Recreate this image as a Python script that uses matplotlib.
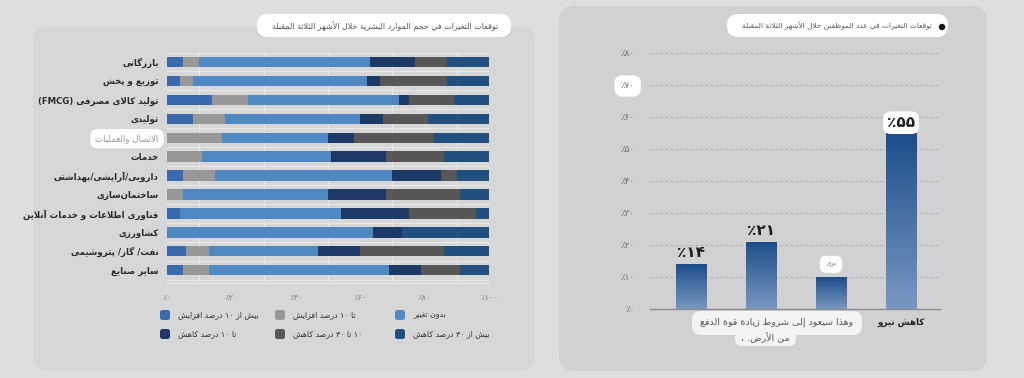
import re
import numpy as np
import matplotlib
matplotlib.use('Agg')
import matplotlib.pyplot as plt
from matplotlib.patches import FancyBboxPatch, Circle
from matplotlib.colors import LinearSegmentedColormap

# ---------------- data ----------------
industries = ['بازرگانی', 'توزیع و پخش', 'تولید کالای مصرفی (FMCG)', 'تولیدی',
              'الاتصال والعمليات', 'خدمات', 'دارویی/آرایشی/بهداشتی', 'ساختمان\u200cسازی',
              'فناوری اطلاعات و خدمات آنلاین', 'کشاورزی', 'نفت/ گاز/ پتروشیمی', 'سایر صنایع']
inc_over10 = [5, 4, 14, 8, 0, 0, 5, 0, 4, 0, 6, 5]
inc_upto10 = [5, 4, 11, 10, 17, 11, 10, 5, 0, 0, 7, 8]
no_change = [53, 54, 47, 42, 33, 40, 55, 45, 50, 64, 34, 56]
dec_upto10 = [14, 4, 3, 7, 8, 17, 15, 18, 21, 9, 13, 10]
dec_10_30 = [10, 21, 14, 14, 25, 18, 5, 23, 21, 0, 26, 12]
dec_over30 = [13, 13, 11, 19, 17, 14, 10, 9, 4, 27, 14, 9]
series_names = ['بیش از ۱۰ درصد افزایش', 'تا ۱۰ درصد افزایش', 'بدون تغییر',
                'تا ۱۰ درصد کاهش', '۱۰ تا ۳۰ درصد کاهش', 'بیش از ۳۰ درصد کاهش']
series_colors = ['#3b69ae', '#989898', '#5089c2', '#1d3a66', '#575757', '#21507f']
pct_ticks = [0, 20, 40, 60, 80, 100]

staff_cats = ['', '', '', 'کاهش نیرو']
staff_vals = [14, 21, 10, 55]
staff_ticks = [0, 10, 20, 30, 40, 50, 60, 70, 80]

title_left = 'توقعات التغيرات في حجم الموارد البشرية خلال الأشهر الثلاثة المقبلة'
title_right = 'توقعات التغيرات في عدد الموظفين خلال الأشهر الثلاثة المقبلة'
caption_1 = 'وهذا سيعود إلى شروط زيادة قوة الدفع'
caption_2 = 'من الأرض. ،'
caption_bar = 'بری'

# ---------------- arabic shaping (matplotlib does no shaping / bidi) ----------------
AR_FORMS = {
    'ا': (0xFE8D, 0xFE8E), 'أ': (0xFE83, 0xFE84), 'إ': (0xFE87, 0xFE88), 'آ': (0xFE81, 0xFE82),
    'ب': (0xFE8F, 0xFE90, 0xFE91, 0xFE92), 'ة': (0xFE93, 0xFE94),
    'ت': (0xFE95, 0xFE96, 0xFE97, 0xFE98), 'ث': (0xFE99, 0xFE9A, 0xFE9B, 0xFE9C),
    'ج': (0xFE9D, 0xFE9E, 0xFE9F, 0xFEA0), 'ح': (0xFEA1, 0xFEA2, 0xFEA3, 0xFEA4),
    'خ': (0xFEA5, 0xFEA6, 0xFEA7, 0xFEA8), 'د': (0xFEA9, 0xFEAA), 'ذ': (0xFEAB, 0xFEAC),
    'ر': (0xFEAD, 0xFEAE), 'ز': (0xFEAF, 0xFEB0),
    'س': (0xFEB1, 0xFEB2, 0xFEB3, 0xFEB4), 'ش': (0xFEB5, 0xFEB6, 0xFEB7, 0xFEB8),
    'ص': (0xFEB9, 0xFEBA, 0xFEBB, 0xFEBC), 'ض': (0xFEBD, 0xFEBE, 0xFEBF, 0xFEC0),
    'ط': (0xFEC1, 0xFEC2, 0xFEC3, 0xFEC4), 'ظ': (0xFEC5, 0xFEC6, 0xFEC7, 0xFEC8),
    'ع': (0xFEC9, 0xFECA, 0xFECB, 0xFECC), 'غ': (0xFECD, 0xFECE, 0xFECF, 0xFED0),
    'ف': (0xFED1, 0xFED2, 0xFED3, 0xFED4), 'ق': (0xFED5, 0xFED6, 0xFED7, 0xFED8),
    'ك': (0xFED9, 0xFEDA, 0xFEDB, 0xFEDC), 'ل': (0xFEDD, 0xFEDE, 0xFEDF, 0xFEE0),
    'م': (0xFEE1, 0xFEE2, 0xFEE3, 0xFEE4), 'ن': (0xFEE5, 0xFEE6, 0xFEE7, 0xFEE8),
    'ه': (0xFEE9, 0xFEEA, 0xFEEB, 0xFEEC), 'و': (0xFEED, 0xFEEE), 'ى': (0xFEEF, 0xFEF0),
    'ي': (0xFEF1, 0xFEF2, 0xFEF3, 0xFEF4),
    'پ': (0xFB56, 0xFB57, 0xFB58, 0xFB59), 'چ': (0xFB7A, 0xFB7B, 0xFB7C, 0xFB7D),
    'ژ': (0xFB8A, 0xFB8B), 'ک': (0xFB8E, 0xFB8F, 0xFB90, 0xFB91),
    'گ': (0xFB92, 0xFB93, 0xFB94, 0xFB95), 'ی': (0xFBFC, 0xFBFD, 0xFBFE, 0xFBFF),
}
LAM_ALEF = {'ا': (0xFEFB, 0xFEFC), 'أ': (0xFEF7, 0xFEF8), 'إ': (0xFEF9, 0xFEFA), 'آ': (0xFEF5, 0xFEF6)}


def joins_left(c):
    return c in AR_FORMS and len(AR_FORMS[c]) == 4


def rtl(text):
    out = []
    i = 0
    n = len(text)
    while i < n:
        c = text[i]
        if c not in AR_FORMS:
            if c != '\u200c':
                out.append(c)
            i += 1
            continue
        prev = text[i - 1] if i > 0 else ''
        conn_prev = joins_left(prev)
        if c == 'ل' and i + 1 < n and text[i + 1] in LAM_ALEF:
            iso, fin = LAM_ALEF[text[i + 1]]
            out.append(chr(fin if conn_prev else iso))
            i += 2
            continue
        nxt = text[i + 1] if i + 1 < n else ''
        conn_next = joins_left(c) and nxt in AR_FORMS
        f = AR_FORMS[c]
        if conn_prev and conn_next:
            g = f[3]
        elif conn_prev:
            g = f[1]
        elif conn_next:
            g = f[2]
        else:
            g = f[0]
        out.append(chr(g))
        i += 1
    s = ''.join(out)[::-1]
    s = re.sub(r'[0-9A-Za-z\u06F0-\u06F9\u0660-\u0669]+', lambda m: m.group(0)[::-1], s)
    return s.translate(str.maketrans('()', ')('))


def fa(n):
    return '٪' + str(n).translate(str.maketrans('0123456789', '۰۱۲۳۴۵۶۷۸۹'))


W, H = 1024, 378


def px(x0, y0, x1, y1):
    return [x0 / W, 1 - y1 / H, (x1 - x0) / W, (y1 - y0) / H]


plt.rcParams['font.family'] = ['DejaVu Sans']
fig = plt.figure(figsize=(W / 100, H / 100), dpi=100)
fig.patch.set_facecolor('#dedede')

# background panels (pixel coordinates)
bg = fig.add_axes([0, 0, 1, 1], zorder=-5)
bg.set_xlim(0, W)
bg.set_ylim(H, 0)
bg.axis('off')
bg.add_patch(FancyBboxPatch((33, 27), 502, 343, boxstyle='round,pad=0,rounding_size=14',
                            fc='#d7d7d8', ec='none'))
bg.add_patch(FancyBboxPatch((559, 6), 428, 365, boxstyle='round,pad=0,rounding_size=16',
                            fc='#d1d1d3', ec='none'))

# ---------------- left: stacked horizontal bars ----------------
ax1 = fig.add_axes(px(167, 52, 489, 283))
ax1.set_facecolor('none')
series = [inc_over10, inc_upto10, no_change, dec_upto10, dec_10_30, dec_over30]
y = np.arange(len(industries))
left = np.zeros(len(industries))
for vals, col in zip(series, series_colors):
    ax1.barh(y, vals, left=left, height=0.55, color=col, zorder=3)
    left += np.array(vals)
ax1.set_xlim(0, 100)
ax1.set_ylim(len(industries) - 0.32, -0.53)
ax1.set_xticks(pct_ticks)
ax1.set_xticklabels([fa(v) for v in pct_ticks], fontsize=6, color='#808080')
ax1.set_xticks(np.arange(0, 101, 10), minor=True)
ax1.set_yticks(y)
ax1.set_yticklabels([rtl(s) for s in industries], fontsize=6.2, color='#2b2b2b', fontweight='bold')
ax1.set_yticks(np.arange(-0.5, len(industries), 1), minor=True)
ax1.tick_params(which='both', length=0)
ax1.tick_params(axis='x', pad=7)
ax1.tick_params(axis='y', pad=6)
ax1.grid(which='minor', color='#e9e9e9', lw=0.8, zorder=0)
for s in ['top', 'right', 'left']:
    ax1.spines[s].set_visible(False)
ax1.spines['bottom'].set_color('#ebebeb')
lab5 = ax1.get_yticklabels()[4]
lab5.set_color('#9a9a9a')
lab5.set_fontweight('normal')
lab5.set_bbox(dict(boxstyle='round,pad=0.6,rounding_size=0.9', fc='white', ec='none'))

# ---------------- right: vertical bars ----------------
ax2 = fig.add_axes(px(650, 45, 940, 309))
ax2.set_facecolor('none')
xs = np.arange(len(staff_vals))
bars = ax2.bar(xs, staff_vals, width=0.44, color='none', edgecolor='none', zorder=3)
cmap = LinearSegmentedColormap.from_list('g', ['#7898c0', '#1c4d8a'])
grad = np.linspace(0, 1, 256).reshape(-1, 1)
for b in bars:
    x0, w, h = b.get_x(), b.get_width(), b.get_height()
    im = ax2.imshow(grad, extent=[x0, x0 + w, 0, h], origin='lower', cmap=cmap,
                    aspect='auto', zorder=3)
    im.set_clip_path(b)
ax2.set_xlim(-0.586, 3.557)
ax2.set_ylim(0, 82.5)
ax2.set_yticks(staff_ticks)
ax2.set_yticklabels([fa(v) for v in staff_ticks], fontsize=6.3, color='#6a6a6a')
ax2.set_xticks(xs)
ax2.set_xticklabels([rtl(c) for c in staff_cats], fontsize=6.3, fontweight='bold', color='#222222')
ax2.tick_params(length=0)
ax2.tick_params(axis='y', pad=11)
ax2.tick_params(axis='x', pad=6)
ax2.grid(axis='y', color='#a9a9a9', lw=0.6, linestyle=(0, (3, 3)), zorder=0)
for s in ['top', 'right', 'left']:
    ax2.spines[s].set_visible(False)
ax2.spines['bottom'].set_color('#8c8c8c')
ax2.spines['bottom'].set_linewidth(1.0)
ax2.get_yticklabels()[7].set_bbox(dict(boxstyle='round,pad=0.7,rounding_size=0.9', fc='white', ec='none'))

for i, (b, v) in enumerate(zip(bars, staff_vals)):
    cx = b.get_x() + b.get_width() / 2
    if i == 2:
        ax2.annotate(rtl(caption_bar), (cx, v), xytext=(0, 7), textcoords='offset points',
                     ha='center', va='bottom', fontsize=5, color='#777777', zorder=5,
                     bbox=dict(boxstyle='round,pad=0.8,rounding_size=0.9', fc='white', ec='none'))
    elif i == 3:
        ax2.annotate(fa(v), (cx, v), xytext=(0, 2), textcoords='offset points',
                     ha='center', va='bottom', fontsize=11, fontweight='bold', color='#1e1e1e',
                     zorder=5, bbox=dict(boxstyle='round,pad=0.25,rounding_size=0.5', fc='white', ec='none'))
    else:
        ax2.annotate(fa(v), (cx, v), xytext=(0, 3), textcoords='offset points',
                     ha='center', va='bottom', fontsize=11, fontweight='bold', color='#1e1e1e', zorder=5)

# ---------------- overlay: titles, legend, captions ----------------
top = fig.add_axes([0, 0, 1, 1], zorder=10)
top.set_xlim(0, W)
top.set_ylim(H, 0)
top.axis('off')
top.patch.set_alpha(0)

top.add_patch(FancyBboxPatch((257, 14), 254, 23, boxstyle='round,pad=0,rounding_size=11',
                             fc='white', ec='none'))
top.text(385, 26, rtl(title_left), ha='center', va='center', fontsize=5.8, color='#555555')
top.add_patch(FancyBboxPatch((727, 14), 221, 23, boxstyle='round,pad=0,rounding_size=11',
                             fc='white', ec='none'))
top.text(837, 26, rtl(title_right), ha='center', va='center', fontsize=5.3, color='#555555')
top.add_patch(Circle((942, 27), 3.2, fc='#111111', ec='none'))

leg_x = [165, 280, 400]
leg_y = [315, 334]
for k, (name, col) in enumerate(zip(series_names, series_colors)):
    cx = leg_x[k % 3]
    cy = leg_y[k // 3]
    top.add_patch(FancyBboxPatch((cx - 5, cy - 5), 10, 10, boxstyle='round,pad=0,rounding_size=2.5',
                                 fc=col, ec='none'))
    top.text(cx + 13, cy, rtl(name), ha='left', va='center', fontsize=5.6, color='#333333')

top.add_patch(FancyBboxPatch((692, 311), 170, 24, boxstyle='round,pad=0,rounding_size=9',
                             fc='#f4f4f4', ec='none'))
top.text(777, 322, rtl(caption_1), ha='center', va='center', fontsize=6.8, color='#555555')
top.add_patch(FancyBboxPatch((735, 331), 61, 15, boxstyle='round,pad=0,rounding_size=7',
                             fc='#f4f4f4', ec='none'))
top.text(765, 338, rtl(caption_2), ha='center', va='center', fontsize=6.8, color='#555555')

fig.savefig('out.png', dpi=100, facecolor=fig.get_facecolor())
